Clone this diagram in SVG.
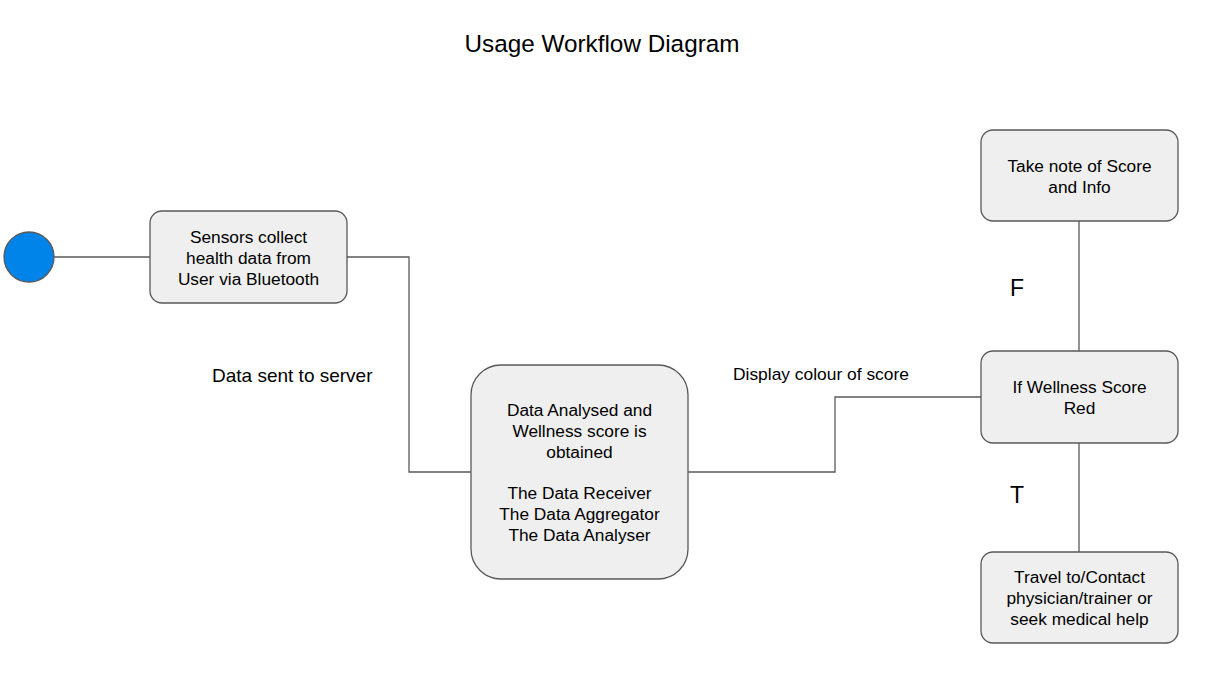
<svg xmlns="http://www.w3.org/2000/svg" width="1223" height="681" viewBox="0 0 1223 681">
<style>
.node{fill:#efefef;stroke:#595959;stroke-width:1.3}
.t{font-family:"Liberation Sans",Arial,sans-serif;font-size:17.3px;fill:#000;text-anchor:middle;dominant-baseline:central}
.lbl{font-family:"Liberation Sans",Arial,sans-serif;fill:#000;dominant-baseline:central}
.c{fill:none;stroke:#595959;stroke-width:1.3}
</style>
<rect width="1223" height="681" fill="#fff"/>
<text class="lbl" x="602" y="43" font-size="24.3" text-anchor="middle">Usage Workflow Diagram</text>
<g id="connectors">
<path class="c" d="M54,257 H150"/>
<path class="c" d="M347,257 H409 V472 H471"/>
<path class="c" d="M688,472 H835 V397 H981"/>
<path class="c" d="M1079,221 V351"/>
<path class="c" d="M1079,443 V552"/>
</g>
<g id="start"><circle cx="29" cy="257" r="25" fill="#0084e9" stroke="#595959" stroke-width="1.3"/></g>
<g id="sensors">
<rect class="node" x="150" y="211" width="197" height="92" rx="12"/>
<text class="t" x="248.5" y="237">Sensors collect</text>
<text class="t" x="248.5" y="258">health data from</text>
<text class="t" x="248.5" y="279">User via Bluetooth</text>
</g>
<g id="analysed">
<rect class="node" x="471" y="365" width="217" height="214" rx="30"/>
<text class="t" x="579.5" y="410">Data Analysed and</text>
<text class="t" x="579.5" y="431">Wellness score is</text>
<text class="t" x="579.5" y="452">obtained</text>
<text class="t" x="579.5" y="493">The Data Receiver</text>
<text class="t" x="579.5" y="514">The Data Aggregator</text>
<text class="t" x="579.5" y="535">The Data Analyser</text>
</g>
<g id="decision">
<rect class="node" x="981" y="351" width="197" height="92" rx="12"/>
<text class="t" x="1079.5" y="387">If Wellness Score</text>
<text class="t" x="1079.5" y="408">Red</text>
</g>
<g id="note">
<rect class="node" x="981" y="130" width="197" height="91" rx="12"/>
<text class="t" x="1079.5" y="166">Take note of Score</text>
<text class="t" x="1079.5" y="187">and Info</text>
</g>
<g id="travel">
<rect class="node" x="981" y="552" width="197" height="91" rx="12"/>
<text class="t" x="1079.5" y="577">Travel to/Contact</text>
<text class="t" x="1079.5" y="598">physician/trainer or</text>
<text class="t" x="1079.5" y="619">seek medical help</text>
</g>
<g id="labels">
<text class="lbl" x="212" y="375" font-size="19">Data sent to server</text>
<text class="lbl" x="733" y="374" font-size="17.4">Display colour of score</text>
<text class="lbl" x="1017" y="288" font-size="23" text-anchor="middle">F</text>
<text class="lbl" x="1017" y="495" font-size="23" text-anchor="middle">T</text>
</g>
</svg>
